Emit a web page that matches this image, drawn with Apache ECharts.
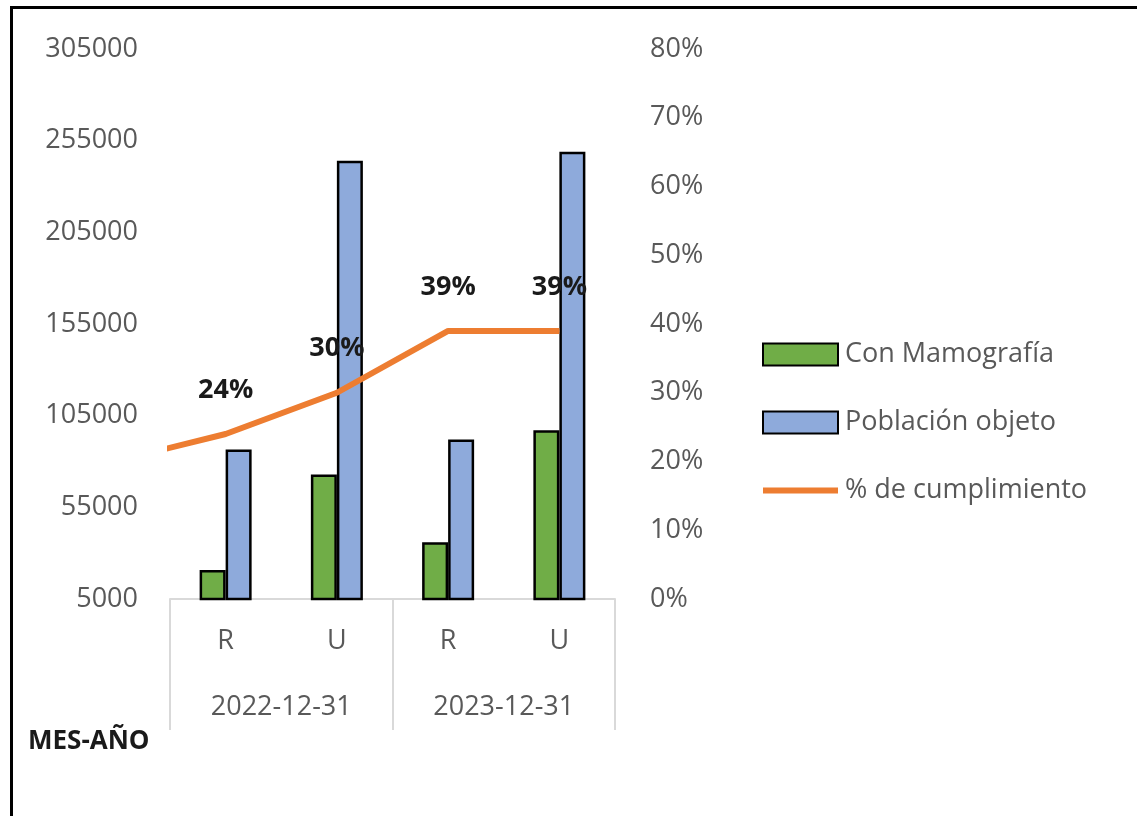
<!DOCTYPE html>
<html lang="es">

<head>
    <meta charset="UTF-8">
    <title>Cumplimiento mamografía</title>
    <script src="https://cdn.jsdelivr.net/npm/echarts@6.0.0/dist/echarts.min.js"></script>
    <style>
        body { margin: 0; background: #fff; }
        #chart { position: absolute; left: 0; top: 0; width: 1137px; height: 816px; }
        #marco {
            position: absolute; left: 10px; top: 6px; width: 1200px; height: 900px;
            border-left: 3px solid #000; border-top: 3px solid #000; pointer-events: none;
        }
    </style>
</head>

<body>
    <div id="chart"></div>
    <div id="marco"></div>

    <script>
        // datos
        var zonas = ['R', 'U', 'R', 'U'];
        var fechas = ['2022-12-31', '2023-12-31'];
        var conMamografia = [20800, 72900, 36000, 97000];
        var poblacionObjeto = [86500, 244000, 92000, 249000];
        var cumplimiento = [24, 30, 39, 39];      // %
        var cumplimientoPrevio = 20;              // tramo que entra por la izquierda
        var ticksIzq = [5000, 55000, 105000, 155000, 205000, 255000, 305000];

        var gris = '#595959';
        var fuente = '"Open Sans", "Noto Sans", sans-serif';

        // linea sobre un eje x de valores oculto (0..4), centro de cada categoria en i+0.5
        var lineaData = [{ value: [-0.5, cumplimientoPrevio], label: { show: false } }];
        for (var i = 0; i < cumplimiento.length; i++) {
            lineaData.push([i + 0.5, cumplimiento[i]]);
        }

        var myChart = echarts.init(document.getElementById('chart'));
        var option = {
            animation: false,
            textStyle: { fontFamily: fuente },
            title: {
                text: 'MES-AÑO',
                left: 28,
                top: 729,
                padding: 0,
                textStyle: { fontFamily: fuente, fontSize: 26, fontWeight: 'bold', color: '#1a1a1a' }
            },
            legend: {
                orient: 'vertical',
                left: 762,
                top: 341,
                padding: 0,
                itemWidth: 75,
                itemHeight: 22,
                itemGap: 41,
                textStyle: { fontFamily: fuente, fontSize: 27, color: gris, lineHeight: 22, padding: [0, 0, 0, 2] },
                data: [
                    { name: 'Con Mamografía', icon: 'rect' },
                    { name: 'Población objeto', icon: 'rect' },
                    // barra fina centrada: los subtrazos vacios fijan la caja a 0..22
                    { name: '% de cumplimiento', icon: 'path://M0,0L0,0M0,8L75,8L75,14L0,14ZM0,22L0,22' }
                ]
            },
            grid: { left: 170, right: 522, top: 49, bottom: 217 },
            xAxis: [
                {
                    type: 'category',
                    data: zonas,
                    axisLine: { lineStyle: { color: '#d9d9d9', width: 2 } },
                    axisTick: { show: false },
                    axisLabel: { color: gris, fontSize: 27, margin: 29, fontFamily: fuente }
                },
                {
                    type: 'category',
                    data: fechas,
                    position: 'bottom',
                    axisLine: { show: false },
                    axisTick: { show: true, length: 131, lineStyle: { color: '#d9d9d9', width: 2 } },
                    axisLabel: { color: gris, fontSize: 27, margin: 95, fontFamily: fuente }
                },
                {
                    type: 'value',
                    min: 0,
                    max: 4,
                    show: false
                }
            ],
            yAxis: [
                {
                    type: 'value',
                    min: 5000,
                    max: 305000,
                    splitLine: { show: false },
                    axisLine: { show: false },
                    axisTick: { show: false },
                    axisLabel: {
                        color: gris, fontSize: 27, margin: 32, fontFamily: fuente,
                        customValues: ticksIzq,
                        formatter: function (v) { return String(v); }
                    }
                },
                {
                    type: 'value',
                    min: 0,
                    max: 80,
                    interval: 10,
                    splitLine: { show: false },
                    axisLine: { show: false },
                    axisTick: { show: false },
                    axisLabel: { color: gris, fontSize: 27, margin: 35, fontFamily: fuente, formatter: '{value}%' }
                }
            ],
            series: [
                {
                    name: 'Con Mamografía',
                    type: 'bar',
                    xAxisIndex: 0,
                    yAxisIndex: 0,
                    barWidth: 26,
                    barGap: '0%',
                    itemStyle: { color: '#70ad47', borderColor: '#000', borderWidth: 2.5 },
                    data: conMamografia
                },
                {
                    name: 'Población objeto',
                    type: 'bar',
                    xAxisIndex: 0,
                    yAxisIndex: 0,
                    barWidth: 26,
                    barGap: '0%',
                    itemStyle: { color: '#8eaadb', borderColor: '#000', borderWidth: 2.5 },
                    data: poblacionObjeto
                },
                {
                    name: '% de cumplimiento',
                    type: 'line',
                    xAxisIndex: 2,
                    yAxisIndex: 1,
                    symbol: 'circle',
                    symbolSize: 1,
                    clip: true,
                    z: 5,
                    lineStyle: { color: '#ed7d31', width: 6 },
                    itemStyle: { color: '#ed7d31' },
                    label: {
                        show: true,
                        position: 'top',
                        distance: 30,
                        color: '#1a1a1a',
                        fontSize: 27,
                        fontWeight: 'bold',
                        fontFamily: fuente,
                        formatter: function (p) { return p.value[1] + '%'; }
                    },
                    data: lineaData
                }
            ]
        };
        myChart.setOption(option);
    </script>
</body>

</html>
